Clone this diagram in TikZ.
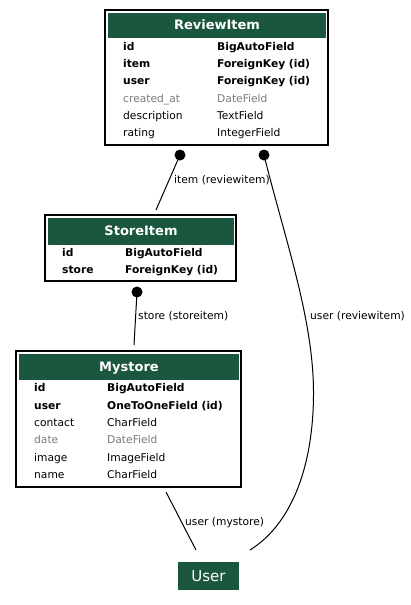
\documentclass[tikz,border=0pt]{standalone}
\usepackage{fontspec}
\setmainfont{DejaVu Sans}
\definecolor{hdrgreen}{HTML}{1B563F}
\definecolor{fldgray}{HTML}{7B7B7B}
\begin{document}
\begin{tikzpicture}[x=1pt,y=-1pt,
  tbl/.style={draw=black, line width=1.2pt, fill=white, inner sep=0, rectangle},
  hdr/.style={fill=hdrgreen, inner sep=0, rectangle},
  fplain/.style={font=\fontsize{10.7}{12}\selectfont, anchor=base west, inner sep=0},
  fbold/.style={font=\fontsize{10.7}{12}\selectfont\bfseries, anchor=base west, inner sep=0},
  fdim/.style={font=\fontsize{10.7}{12}\selectfont, text=fldgray, anchor=base west, inner sep=0},
  htxt/.style={font=\fontsize{13}{15}\selectfont\bfseries, text=white, anchor=base, inner sep=0},
  dotnode/.style={circle, fill=black, minimum size=11pt, inner sep=0},
  lbl/.style={font=\fontsize{10.7}{12}\selectfont, anchor=base west, inner sep=0},
  conn/.style={line width=1pt, draw=black}]
\useasboundingbox (0,0) rectangle (410,605);
\fill[white] (0,0) rectangle (410,605);

% ReviewItem
\node[tbl, minimum width=223pt, minimum height=135pt] (ri) at (216.5,77.5) {};
\node[hdr, minimum width=218pt, minimum height=25pt] (rih) at (217,25.5) {};
\node[htxt] (riT) at (217,29.5) {ReviewItem};
\node[fbold] (ri1a) at (123,50) {id};
\node[fbold] (ri1b) at (217,50) {BigAutoField};
\node[fbold] (ri2a) at (123,67) {item};
\node[fbold] (ri2b) at (217,67) {ForeignKey (id)};
\node[fbold] (ri3a) at (123,84) {user};
\node[fbold] (ri3b) at (217,84) {ForeignKey (id)};
\node[fdim] (ri4a) at (123,102) {created\_at};
\node[fdim] (ri4b) at (217,102) {DateField};
\node[fplain] (ri5a) at (123,119) {description};
\node[fplain] (ri5b) at (217,119) {TextField};
\node[fplain] (ri6a) at (123,136) {rating};
\node[fplain] (ri6b) at (217,136) {IntegerField};

% StoreItem
\node[tbl, minimum width=191pt, minimum height=66pt] (si) at (140.5,248) {};
\node[hdr, minimum width=186pt, minimum height=27pt] (sih) at (141,231.5) {};
\node[htxt] (siT) at (141,235) {StoreItem};
\node[fbold] (si1a) at (62,256) {id};
\node[fbold] (si1b) at (125,256) {BigAutoField};
\node[fbold] (si2a) at (62,273) {store};
\node[fbold] (si2b) at (125,273) {ForeignKey (id)};

% Mystore
\node[tbl, minimum width=225pt, minimum height=136pt] (ms) at (128.5,419) {};
\node[hdr, minimum width=220pt, minimum height=26pt] (msh) at (129,367) {};
\node[htxt] (msT) at (129,371) {Mystore};
\node[fbold] (ms1a) at (34,391) {id};
\node[fbold] (ms1b) at (107,391) {BigAutoField};
\node[fbold] (ms2a) at (34,409) {user};
\node[fbold] (ms2b) at (107,409) {OneToOneField (id)};
\node[fplain] (ms3a) at (34,426) {contact};
\node[fplain] (ms3b) at (107,426) {CharField};
\node[fdim] (ms4a) at (34,443) {date};
\node[fdim] (ms4b) at (107,443) {DateField};
\node[fplain] (ms5a) at (34,461) {image};
\node[fplain] (ms5b) at (107,461) {ImageField};
\node[fplain] (ms6a) at (34,478) {name};
\node[fplain] (ms6b) at (107,478) {CharField};

% User
\node[fill=hdrgreen, minimum width=61pt, minimum height=28pt, inner sep=0] (us) at (208.5,576) {};
\node[font=\fontsize{15}{17}\selectfont, text=white, anchor=base, inner sep=0] (usT) at (208.5,581) {User};

% connector endpoints
\node[dotnode] (d1) at (180,155) {};
\node[dotnode] (d2) at (264,155) {};
\node[dotnode] (d3) at (137,292) {};
\coordinate (e1) at (156,210);
\coordinate (e3) at (134,345);
\coordinate (s4) at (166,492);
\coordinate (e4) at (196,550);
\coordinate (e2) at (250,550);

\draw[conn] (d1.center) -- (e1);
\draw[conn] (d3.center) -- (e3);
\draw[conn] (s4) -- (e4);
\draw[conn] (d2.center) .. controls (285,240) and (314,320) .. (313.5,395)
  .. controls (313,470) and (290,525) .. (e2);

\node[lbl] (l1) at (174,183) {item (reviewitem)};
\node[lbl] (l2) at (138,319) {store (storeitem)};
\node[lbl] (l3) at (310,319) {user (reviewitem)};
\node[lbl] (l4) at (185,525) {user (mystore)};
\end{tikzpicture}
\end{document}
